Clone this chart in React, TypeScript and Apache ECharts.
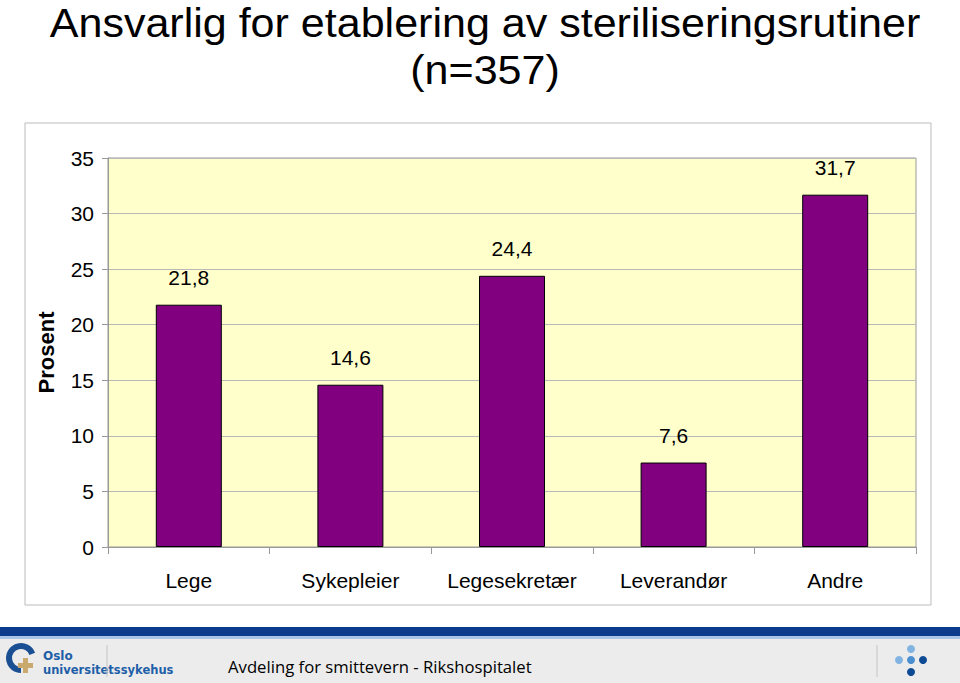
import React, { useEffect, useRef } from "react";
import * as echarts from "echarts";

const categories = ["Lege", "Sykepleier", "Legesekretær", "Leverandør", "Andre"];
const values = [21.8, 14.6, 24.4, 7.6, 31.7];
const yTicks = [0, 5, 10, 15, 20, 25, 30, 35];
const titleLines = ["Ansvarlig for etablering av steriliseringsrutiner", "(n=357)"];
const yName = "Prosent";
const footerText = "Avdeling for smittevern - Rikshospitalet";
const logoLines = ["Oslo", "universitetssykehus"];

export default function App() {
  const ref = useRef<HTMLDivElement>(null);
  useEffect(() => {
    if (!ref.current) return;
    const chart = echarts.init(ref.current, null, { renderer: "svg" });
    const font = "'Liberation Sans', Arial, sans-serif";
    chart.setOption({
      animation: false,
      backgroundColor: "#ffffff",
      grid: {
        left: 108,
        right: 44,
        top: 158,
        bottom: 136,
        show: true,
        backgroundColor: "#FFFFCC",
        borderColor: "#999999",
        borderWidth: 1,
      },
      xAxis: {
        type: "category",
        data: categories,
        axisLine: { show: true, lineStyle: { color: "#999999" } },
        axisTick: { show: true, alignWithLabel: false, length: 7, lineStyle: { color: "#999999" } },
        axisLabel: { fontSize: 21, color: "#000", fontFamily: font, margin: 23, interval: 0 },
        splitLine: { show: false },
      },
      yAxis: {
        type: "value",
        min: yTicks[0],
        max: yTicks[yTicks.length - 1],
        interval: 5,
        name: yName,
        nameLocation: "middle",
        nameRotate: 90,
        nameGap: 51,
        nameTextStyle: { fontSize: 22, fontWeight: "bold", color: "#000", fontFamily: font },
        axisLine: { show: true, lineStyle: { color: "#999999" } },
        axisTick: { show: true, length: 6, lineStyle: { color: "#999999" } },
        axisLabel: { fontSize: 21, color: "#000", fontFamily: font, margin: 14 },
        splitLine: { show: true, lineStyle: { color: "#b8b8b8", width: 1 } },
      },
      series: [
        {
          type: "bar",
          data: values,
          barWidth: 66,
          itemStyle: { color: "#800080", borderColor: "#000000", borderWidth: 1 },
          label: {
            show: true,
            position: "top",
            distance: 17,
            fontSize: 21,
            color: "#000",
            fontFamily: font,
            formatter: (p: any) => String(p.value).replace(".", ","),
          },
        },
      ],
      graphic: [
        {
          type: "rect",
          shape: { x: 25, y: 123, width: 906, height: 482 },
          style: { fill: "none", stroke: "#bbbbbb", lineWidth: 1 },
          z: -1,
        },
        {
          type: "text",
          x: 485,
          y: 23,
          scaleX: 1.05,
          style: { text: titleLines[0], fontSize: 41, fontFamily: font, fill: "#000", align: "center", verticalAlign: "middle" },
        },
        {
          type: "text",
          x: 485,
          y: 70,
          scaleX: 1.05,
          style: { text: titleLines[1], fontSize: 41, fontFamily: font, fill: "#000", align: "center", verticalAlign: "middle" },
        },
        { type: "rect", shape: { x: 0, y: 627, width: 960, height: 9 }, style: { fill: "#0b3b8c" } },
        { type: "rect", shape: { x: 0, y: 636, width: 960, height: 3 }, style: { fill: "#a8c4e6" } },
        { type: "rect", shape: { x: 0, y: 639, width: 960, height: 44 }, style: { fill: "#ececec" } },
        {
          type: "sector",
          shape: { cx: 21, cy: 658, r: 15, r0: 9, startAngle: Math.PI / 2, endAngle: Math.PI * 2 - 0.35, clockwise: true },
          style: { fill: "#1b4f93" },
        },
        { type: "rect", shape: { x: 23, y: 658, width: 5, height: 15 }, style: { fill: "#c9a96e" } },
        { type: "rect", shape: { x: 18, y: 663, width: 15, height: 5 }, style: { fill: "#c9a96e" } },
        {
          type: "text",
          x: 43,
          y: 656,
          style: { text: logoLines[0], fontSize: 12, fontWeight: "bold", fontFamily: "'DejaVu Sans', sans-serif", fill: "#1f5fa8", verticalAlign: "middle" },
        },
        {
          type: "text",
          x: 43,
          y: 670,
          style: { text: logoLines[1], fontSize: 11.5, fontWeight: "bold", fontFamily: "'DejaVu Sans', sans-serif", fill: "#1f5fa8", verticalAlign: "middle" },
        },
        { type: "line", shape: { x1: 107, y1: 645, x2: 107, y2: 677 }, style: { stroke: "#c4c4c4", lineWidth: 1 } },
        { type: "line", shape: { x1: 877, y1: 645, x2: 877, y2: 677 }, style: { stroke: "#c4c4c4", lineWidth: 1 } },
        {
          type: "text",
          x: 228,
          y: 666,
          style: { text: footerText, fontSize: 16.7, fontFamily: "'Open Sans', sans-serif", fill: "#000", verticalAlign: "middle" },
        },
        { type: "circle", shape: { cx: 911, cy: 649, r: 4 }, style: { fill: "#82b4e2" } },
        { type: "circle", shape: { cx: 899, cy: 660, r: 4 }, style: { fill: "#82b4e2" } },
        { type: "circle", shape: { cx: 911, cy: 660, r: 4 }, style: { fill: "#4b8fd0" } },
        { type: "circle", shape: { cx: 923, cy: 660, r: 4 }, style: { fill: "#0d4a94" } },
        { type: "circle", shape: { cx: 911, cy: 672, r: 4 }, style: { fill: "#0d4a94" } },
      ],
    });
    return () => chart.dispose();
  }, []);
  return (
    <div
      ref={ref}
      style={{ position: "fixed", left: 0, top: 0, width: 960, height: 683, background: "#fff" }}
    />
  );
}
